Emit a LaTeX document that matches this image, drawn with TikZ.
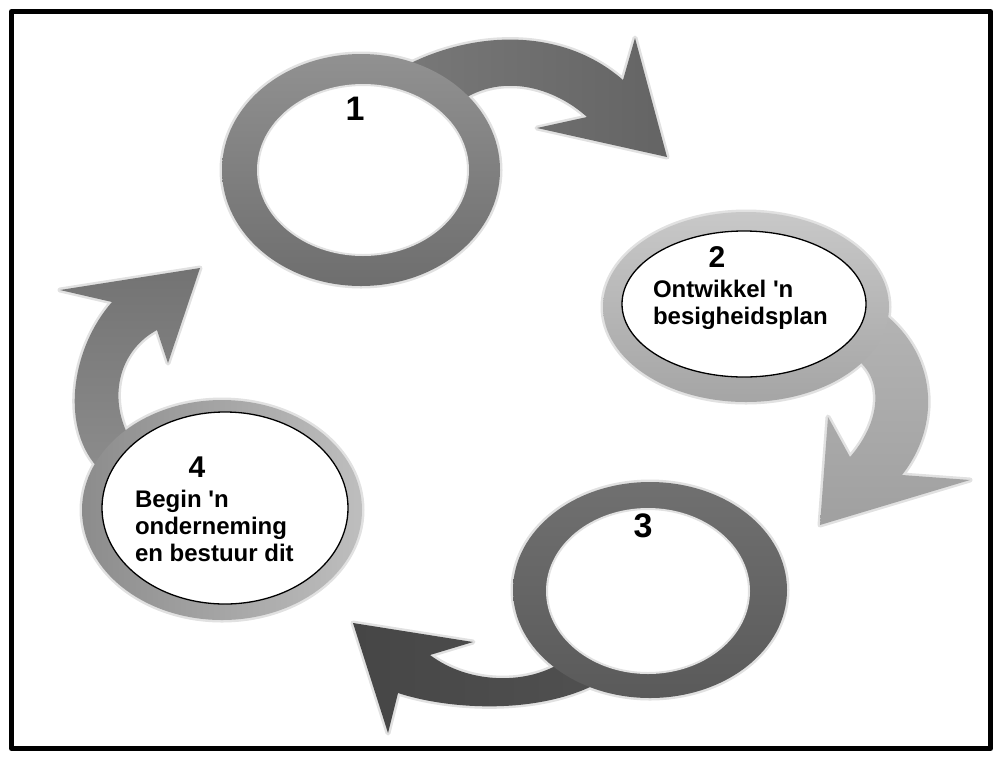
\documentclass[tikz,border=0pt]{standalone}
\usepackage{fontspec}
\setmainfont{Liberation Sans}[Ligatures=TeXOff]
\begin{document}
\begin{tikzpicture}[x=1pt,y=-1pt,line join=round,
  halo/.style={draw=custcol_e1_e1_e1, line width=5pt},
  num/.style={inner sep=0, outer sep=0, anchor=base, font=\fontsize{34pt}{34pt}\selectfont\bfseries},
  words/.style={inner sep=0, outer sep=0, anchor=north west, align=left, font=\fontsize{24pt}{27pt}\selectfont\bfseries},
  bubble/.style={fill=white, draw=black, line width=1.3pt}]
\useasboundingbox (0,0) rectangle (998,756);
\definecolor{custcol_e1_e1_e1}{RGB}{225, 225, 225}
\definecolor{custcol_91_91_91}{RGB}{145, 145, 145}
\definecolor{custcol_6e_6e_6e}{RGB}{110, 110, 110}
\definecolor{custcol_78_78_78}{RGB}{120, 120, 120}
\definecolor{custcol_64_64_64}{RGB}{100, 100, 100}
\definecolor{custcol_c8_c8_c8}{RGB}{200, 200, 200}
\definecolor{custcol_a5_a5_a5}{RGB}{165, 165, 165}
\definecolor{custcol_b4_b4_b4}{RGB}{180, 180, 180}
\definecolor{custcol_a0_a0_a0}{RGB}{160, 160, 160}
\definecolor{custcol_70_70_70}{RGB}{112, 112, 112}
\definecolor{custcol_5a_5a_5a}{RGB}{90, 90, 90}
\definecolor{custcol_50_50_50}{RGB}{80, 80, 80}
\definecolor{custcol_46_46_46}{RGB}{70, 70, 70}
\definecolor{custcol_be_be_be}{RGB}{190, 190, 190}
\definecolor{custcol_8c_8c_8c}{RGB}{140, 140, 140}
\definecolor{custcol_73_73_73}{RGB}{115, 115, 115}
% frame
\draw [line width=5pt, black] (11.5,11.5) rectangle (990.5,748.5);
% ring 1
\draw [halo] (361,170) ellipse (139 and 116);
\draw [halo] (405,66) .. controls (470,32) and (560,25) .. (623,80) -- (635,38) -- (667,157) -- (537,128) -- (587,117) .. controls (555,88) and (500,70) .. (455,105) -- cycle;
\shade [left color=custcol_78_78_78, right color=custcol_64_64_64] (405,66) .. controls (470,32) and (560,25) .. (623,80) -- (635,38) -- (667,157) -- (537,128) -- (587,117) .. controls (555,88) and (500,70) .. (455,105) -- cycle;
\shade [top color=custcol_91_91_91, bottom color=custcol_6e_6e_6e] (361,170) ellipse (139 and 116);
\filldraw [fill=white, draw=custcol_e1_e1_e1, line width=2pt] (363,170) ellipse (105 and 85);
% ring 2
\draw [halo] (746,307) ellipse (143 and 95);
\draw [halo] (872,305) .. controls (935,345) and (945,420) .. (902,475) -- (970,480) -- (820,525) -- (828,417) -- (850,457) .. controls (878,425) and (885,385) .. (860,362) -- (845,350) -- cycle;
\shade [top color=custcol_b4_b4_b4, bottom color=custcol_a0_a0_a0] (872,305) .. controls (935,345) and (945,420) .. (902,475) -- (970,480) -- (820,525) -- (828,417) -- (850,457) .. controls (878,425) and (885,385) .. (860,362) -- (845,350) -- cycle;
\shade [top color=custcol_c8_c8_c8, bottom color=custcol_a5_a5_a5] (746,307) ellipse (143 and 95);
\draw [bubble] (744,304) ellipse (122 and 73);
% ring 3
\draw [halo] (650,590) ellipse (137 and 108);
\draw [halo] (600,682) .. controls (540,715) and (450,710) .. (398,693) -- (388,733) -- (353,623) -- (473,642) -- (430,655) .. controls (470,685) and (530,685) .. (565,660) -- cycle;
\shade [left color=custcol_46_46_46, right color=custcol_50_50_50] (600,682) .. controls (540,715) and (450,710) .. (398,693) -- (388,733) -- (353,623) -- (473,642) -- (430,655) .. controls (470,685) and (530,685) .. (565,660) -- cycle;
\shade [top color=custcol_70_70_70, bottom color=custcol_5a_5a_5a] (650,590) ellipse (137 and 108);
\filldraw [fill=white, draw=custcol_e1_e1_e1, line width=2pt] (648,591) ellipse (101 and 82);
% ring 4
\draw [halo] (222,510) ellipse (140 and 110);
\draw [halo] (100,470) .. controls (60,430) and (70,350) .. (112,302) -- (60,290) -- (200,268) -- (168,363) -- (157,330) .. controls (120,350) and (108,395) .. (128,435) -- cycle;
\shade [top color=custcol_73_73_73, bottom color=custcol_8c_8c_8c] (100,470) .. controls (60,430) and (70,350) .. (112,302) -- (60,290) -- (200,268) -- (168,363) -- (157,330) .. controls (120,350) and (108,395) .. (128,435) -- cycle;
\shade [right color=custcol_be_be_be, left color=custcol_8c_8c_8c] (222,510) ellipse (140 and 110);
\draw [bubble] (225,508) ellipse (123 and 96);
% labels
\node [num] (lbl1) at (355,120) {1};
\node [num, font=\fontsize{30pt}{30pt}\selectfont\bfseries] (lbl2) at (717,267) {2};
\node [num] (lbl3) at (643,537) {3};
\node [num, font=\fontsize{30pt}{30pt}\selectfont\bfseries] (lbl4) at (197,477) {4};
\node [words] (txt2) at (653,280) {Ontwikkel 'n\\besigheidsplan};
\node [words] (txt4) at (135,490) {Begin 'n\\onderneming\\en bestuur dit};
\end{tikzpicture}
\end{document}
